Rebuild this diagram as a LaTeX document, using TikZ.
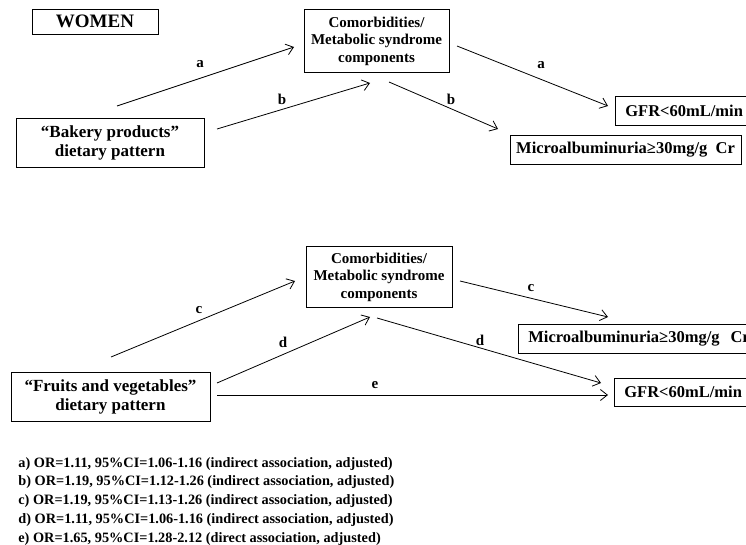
\documentclass[tikz,border=0pt]{standalone}
\usepackage{fontspec}
\setmainfont{Liberation Serif}
\usetikzlibrary{arrows.meta}
\tikzset{
  box/.style={draw, line width=0.8pt, align=center, inner sep=0pt},
  lbl/.style={font=\bfseries\fontsize{15}{17}\selectfont, inner sep=0pt},
  leg/.style={font=\bfseries\fontsize{14.3}{18}\selectfont, anchor=base west, inner sep=0pt}
}
\begin{document}
\begin{tikzpicture}[x=1pt, y=-1pt, font=\bfseries, line width=0.8pt, >={Straight Barb[length=7pt,width=11pt]}]
    \useasboundingbox (0,0) rectangle (746,545);
    \clip (0,0) rectangle (746,545);
    % upper diagram
    \node[box, minimum width=126pt, minimum height=25pt, font=\bfseries\fontsize{19}{21}\selectfont] (women) at (95,21.5) {WOMEN};
    \node[box, minimum width=145pt, minimum height=63pt, font=\bfseries\fontsize{15}{17.5}\selectfont] (com1) at (376.5,41) {Comorbidities/\\Metabolic syndrome\\components};
    \node[box, minimum width=188pt, minimum height=49pt, font=\bfseries\fontsize{17}{19}\selectfont] (bak) at (110,142.5) {``Bakery products''\\dietary pattern};
    \node[box, anchor=west, align=left, text width=150pt, inner xsep=10pt, minimum height=29pt, font=\bfseries\fontsize{16.5}{19}\selectfont] (gfr1) at (615,110.5) {GFR<60mL/min};
    \node[box, minimum width=231pt, minimum height=29pt, font=\bfseries\fontsize{16.5}{19}\selectfont] (mic1) at (625.5,149.5) {Microalbuminuria≥30mg/g~~Cr};
    \coordinate (a1s) at (117,106); \coordinate (a1e) at (294,47);
    \coordinate (b1s) at (217,129); \coordinate (b1e) at (370,83);
    \coordinate (b2s) at (389,82);  \coordinate (b2e) at (498,129);
    \coordinate (a2s) at (457,46);  \coordinate (a2e) at (608,106);
    \draw[->] (a1s) -- (a1e);
    \draw[->] (b1s) -- (b1e);
    \draw[->] (b2s) -- (b2e);
    \draw[->] (a2s) -- (a2e);
    \node[lbl] (la1) at (200,64) {a};
    \node[lbl] (lb1) at (282,99) {b};
    \node[lbl] (lb2) at (451,99) {b};
    \node[lbl] (la2) at (541,65) {a};
    % lower diagram
    \node[box, minimum width=146pt, minimum height=61pt, font=\bfseries\fontsize{15}{17.5}\selectfont] (com2) at (379,277) {Comorbidities/\\Metabolic syndrome\\components};
    \node[box, minimum width=199pt, minimum height=49pt, font=\bfseries\fontsize{17}{19}\selectfont] (fru) at (110.5,396.5) {``Fruits and vegetables''\\dietary pattern};
    \node[box, anchor=west, align=left, text width=240pt, inner xsep=10pt, minimum height=29pt, font=\bfseries\fontsize{16.5}{19}\selectfont] (mic2) at (518,338.5) {Microalbuminuria≥30mg/g~~Cr};
    \node[box, anchor=west, align=left, text width=150pt, inner xsep=10pt, minimum height=28pt, font=\bfseries\fontsize{16.5}{19}\selectfont] (gfr2) at (614,392) {GFR<60mL/min};
    \coordinate (c1s) at (111,357); \coordinate (c1e) at (295,281);
    \coordinate (d1s) at (217,383); \coordinate (d1e) at (370,317);
    \coordinate (d2s) at (377,318); \coordinate (d2e) at (601,383);
    \coordinate (c2s) at (460,281); \coordinate (c2e) at (608,317);
    \coordinate (es) at (217,395);  \coordinate (ee) at (608,395);
    \draw[->] (c1s) -- (c1e);
    \draw[->] (d1s) -- (d1e);
    \draw[->] (d2s) -- (d2e);
    \draw[->] (c2s) -- (c2e);
    \draw[->] (es) -- (ee);
    \node[lbl] (lc1) at (199,310) {c};
    \node[lbl] (ld1) at (283,342) {d};
    \node[lbl] (ld2) at (480,340) {d};
    \node[lbl] (lc2) at (531,288) {c};
    \node[lbl] (le) at (375,385) {e};
    % legend
    \foreach \t [count=\i] in {{a) OR=1.11, 95\%CI=1.06-1.16 (indirect association, adjusted)},
                               {b) OR=1.19, 95\%CI=1.12-1.26 (indirect association, adjusted)},
                               {c) OR=1.19, 95\%CI=1.13-1.26 (indirect association, adjusted)},
                               {d) OR=1.11, 95\%CI=1.06-1.16 (indirect association, adjusted)},
                               {e) OR=1.65, 95\%CI=1.28-2.12 (direct association, adjusted)}}
        \node[leg] (leg\i) at (18,{467+18.8*(\i-1)}) {\t};
\end{tikzpicture}
\end{document}
